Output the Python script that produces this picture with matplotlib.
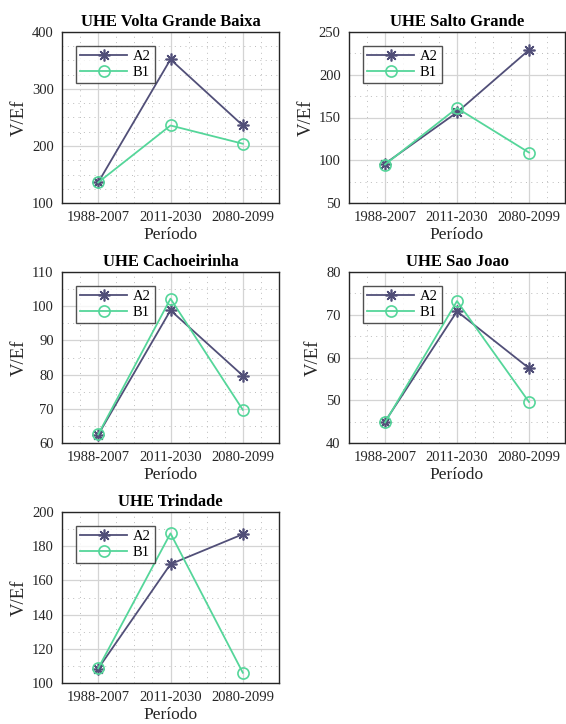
import matplotlib
matplotlib.use("Agg")
import matplotlib.pyplot as plt
from matplotlib.ticker import MultipleLocator

periods = ["1988-2007", "2011-2030", "2080-2099"]
titles = ["UHE Volta Grande Baixa", "UHE Salto Grande", "UHE Cachoeirinha",
          "UHE Sao Joao", "UHE Trindade"]
a2_vgb = [136, 352, 236]
b1_vgb = [136, 236, 204]
a2_sg = [96, 156, 229]
b1_sg = [95, 161, 109]
a2_cach = [62.4, 98.8, 79.7]
b1_cach = [62.5, 102.2, 69.7]
a2_sj = [45.0, 70.8, 57.5]
b1_sj = [44.8, 73.2, 49.6]
a2_tri = [108.4, 169.5, 187]
b1_tri = [108.6, 187.5, 106]
a2_series = [a2_vgb, a2_sg, a2_cach, a2_sj, a2_tri]
b1_series = [b1_vgb, b1_sg, b1_cach, b1_sj, b1_tri]
ylims = [(100, 400), (50, 250), (60, 110), (40, 80), (100, 200)]
ymajor = [100, 50, 10, 10, 20]
yminor = [25, 25, 5, 5, 10]

W, H = 566, 724
plt.rcParams['font.family'] = ['Liberation Serif', 'DejaVu Serif']
fig = plt.figure(figsize=(W / 100, H / 100), dpi=100)

boxes = [(62, 32, 279, 203), (349, 32, 565, 203),
         (62, 272, 279, 443), (349, 272, 565, 443),
         (62, 512, 279, 683)]
c_a2 = '#514f78'
c_b1 = '#55d69a'
x = [1, 2, 3]
for i in range(5):
    l, t, r, b = boxes[i]
    ax = fig.add_axes([l / W, 1 - b / H, (r - l) / W, (b - t) / H])
    ax.plot(x, a2_series[i], color=c_a2, lw=1.3, marker=(8, 2, 0), ms=8.5,
            mew=1.2, label='A2', zorder=3)
    ax.plot(x, b1_series[i], color=c_b1, lw=1.3, marker='o', ms=8,
            mfc='none', mew=1.2, label='B1', zorder=3)
    ax.set_xlim(0.5, 3.5)
    ax.set_ylim(*ylims[i])
    ax.set_xticks(x)
    ax.set_xticklabels(periods)
    ax.xaxis.set_minor_locator(MultipleLocator(0.25))
    ax.yaxis.set_major_locator(MultipleLocator(ymajor[i]))
    ax.yaxis.set_minor_locator(MultipleLocator(yminor[i]))
    ax.grid(True, which='major', color='#d4d4d4', lw=0.9, ls='-')
    ax.grid(True, which='minor', color='#bcbcbc', lw=0.7, ls=(0, (1, 4.5)))
    ax.set_axisbelow(True)
    ax.tick_params(which='both', length=0, labelsize=10.5, colors='#262626', pad=6)
    for s in ax.spines.values():
        s.set_color('#262626')
        s.set_linewidth(1.0)
    ax.set_title(titles[i], fontsize=12, fontweight='bold', pad=4)
    ax.set_ylabel('V/Ef', fontsize=13.5, color='#262626', labelpad=3)
    ax.set_xlabel('Período', fontsize=12.5, color='#262626', labelpad=2)
    leg = ax.legend(loc='upper left', bbox_to_anchor=(0.065, 0.92), fontsize=10.5,
                    frameon=True, fancybox=False, edgecolor='#262626',
                    handlelength=3.2, borderpad=0.3, labelspacing=0.15,
                    handletextpad=0.4, borderaxespad=0)
    leg.get_frame().set_linewidth(1.0)

fig.savefig('out.png', dpi=100, facecolor='white')
